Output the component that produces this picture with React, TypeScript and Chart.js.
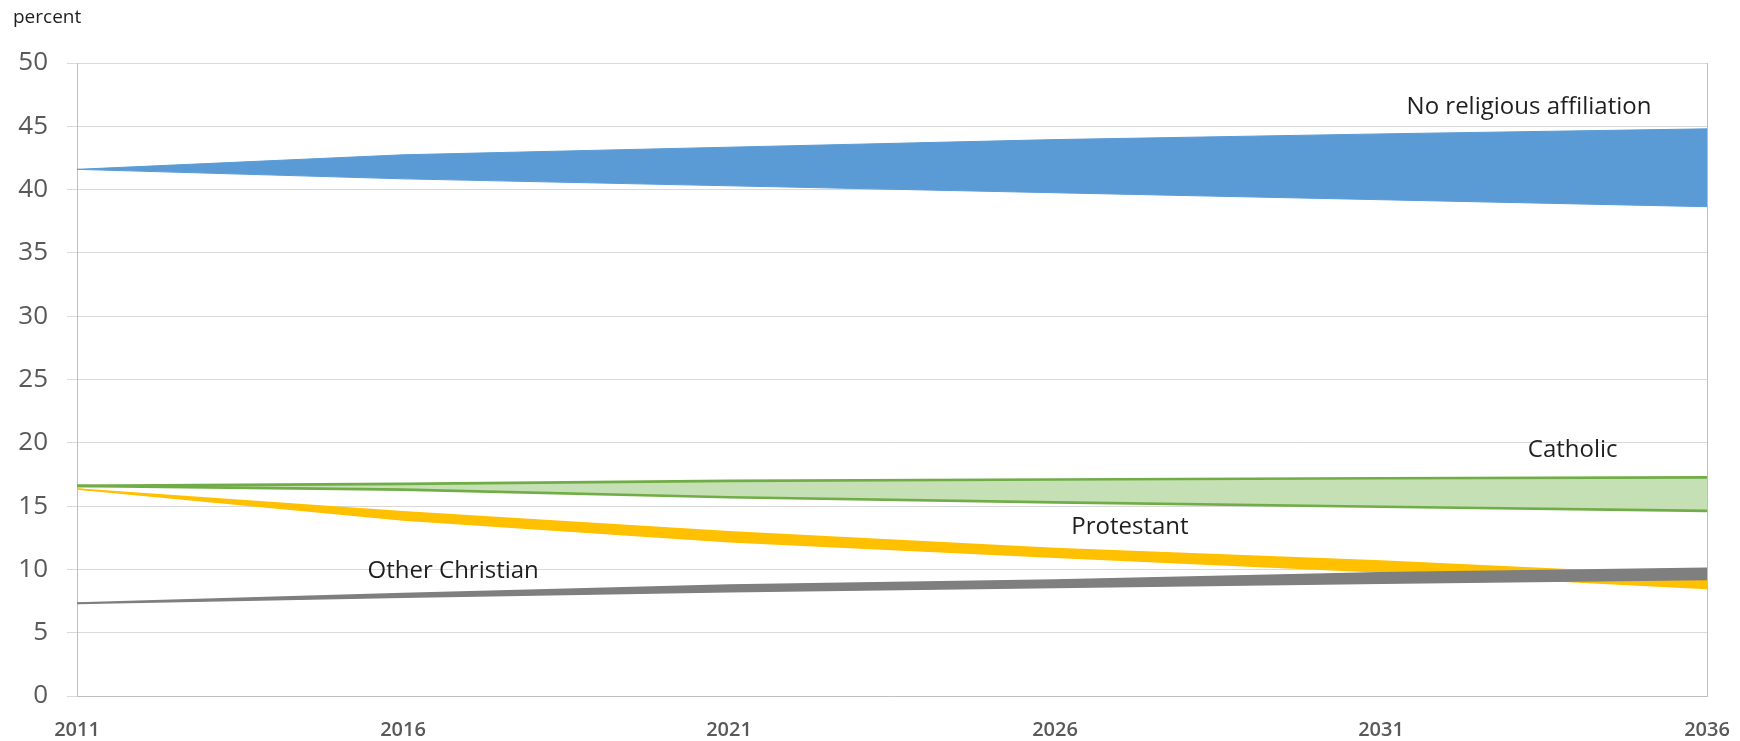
import React, { useEffect, useRef } from "react";
import { Chart, registerables } from "chart.js";

Chart.register(...registerables);

const years = [2011, 2016, 2021, 2026, 2031, 2036];
const xTickYears = [2011, 2016, 2021, 2026, 2031, 2036];
const yTickValues = [0, 5, 10, 15, 20, 25, 30, 35, 40, 45, 50];

const noReligionUpper = [41.6, 42.75, 43.35, 43.95, 44.4, 44.8];
const noReligionLower = [41.6, 40.85, 40.3, 39.75, 39.2, 38.65];
const catholicUpper = [16.6, 16.75, 17.0, 17.1, 17.2, 17.27];
const catholicLower = [16.6, 16.3, 15.7, 15.3, 14.95, 14.63];
const protestantUpper = [16.35, 14.55, 12.98, 11.66, 10.66, 9.45];
const protestantLower = [16.35, 13.9, 12.19, 10.95, 9.8, 8.5];
const otherChristianUpper = [7.35, 8.1, 8.77, 9.16, 9.74, 10.1];
const otherChristianLower = [7.3, 7.8, 8.24, 8.58, 8.9, 9.2];

const seriesNames = ["No religious affiliation", "Catholic", "Protestant", "Other Christian"];
// label anchor points in data units (year, percent)
const labelYears = [2033.27, 2033.94, 2027.15, 2016.77];
const labelValues = [46.5, 19.43, 13.35, 9.87];

const FONT = "'Open Sans', 'DejaVu Sans', sans-serif";

const pts = (vals: number[]) => years.map((yr, i) => ({ x: yr, y: vals[i] }));

const labelPlugin = {
  id: "bandLabels",
  afterDatasetsDraw(chart: any) {
    const { ctx, scales } = chart;
    ctx.save();
    ctx.fillStyle = "#1f1f1f";
    ctx.font = `24px ${FONT}`;
    ctx.textAlign = "center";
    ctx.textBaseline = "middle";
    seriesNames.forEach((name, i) => {
      ctx.fillText(name, scales.x.getPixelForValue(labelYears[i]), scales.y.getPixelForValue(labelValues[i]));
    });
    ctx.font = `19px ${FONT}`;
    ctx.textAlign = "left";
    ctx.fillText("percent", 13, 18);
    ctx.restore();
  },
};

export default function App() {
  const ref = useRef<HTMLCanvasElement | null>(null);
  useEffect(() => {
    if (!ref.current) return;
    const blue = "#5b9bd5";
    const green = "#70ad47";
    const greenFill = "#c5e0b4";
    const yellow = "#ffc000";
    const gray = "#7f7f7f";
    const chart = new Chart(ref.current, {
      type: "line",
      data: {
        datasets: [
          { label: "No religious upper", data: pts(noReligionUpper), borderColor: blue, borderWidth: 1, pointRadius: 0, fill: false, order: 1 },
          { label: "No religious lower", data: pts(noReligionLower), borderColor: blue, backgroundColor: blue, borderWidth: 1, pointRadius: 0, fill: "-1", order: 1 },
          { label: "Catholic upper", data: pts(catholicUpper), borderColor: green, borderWidth: 2.7, pointRadius: 0, fill: false, order: 2 },
          { label: "Catholic lower", data: pts(catholicLower), borderColor: green, backgroundColor: greenFill, borderWidth: 2.7, pointRadius: 0, fill: "-1", order: 2 },
          { label: "Other Christian upper", data: pts(otherChristianUpper), borderColor: gray, borderWidth: 1.5, pointRadius: 0, fill: false, order: 3 },
          { label: "Other Christian lower", data: pts(otherChristianLower), borderColor: gray, backgroundColor: gray, borderWidth: 1.5, pointRadius: 0, fill: "-1", order: 3 },
          { label: "Protestant upper", data: pts(protestantUpper), borderColor: yellow, borderWidth: 1.5, pointRadius: 0, fill: false, order: 4 },
          { label: "Protestant lower", data: pts(protestantLower), borderColor: yellow, backgroundColor: yellow, borderWidth: 1.5, pointRadius: 0, fill: "-1", order: 4 },
        ],
      },
      options: {
        animation: false,
        responsive: false,
        devicePixelRatio: 1,
        layout: { autoPadding: false, padding: { top: 63, right: 33, bottom: 0, left: 0 } },
        plugins: { legend: { display: false }, tooltip: { enabled: false } },
        elements: { line: { tension: 0 } },
        scales: {
          x: {
            type: "linear",
            min: 2011,
            max: 2036,
            afterBuildTicks: (scale: any) => {
              scale.ticks = xTickYears.map((v) => ({ value: v }));
            },
            afterFit: (scale: any) => {
              scale.height = 45;
              scale.paddingLeft = 0;
              scale.paddingRight = 0;
            },
            ticks: {
              autoSkip: false,
              maxRotation: 0,
              padding: 22,
              color: "#595959",
              font: { family: FONT, size: 20, weight: "600" },
              callback: (v: any) => String(v),
            },
            grid: {
              drawTicks: false,
              color: (c: any) => (c.index === xTickYears.length - 1 ? "#bfbfbf" : "rgba(0,0,0,0)"),
            },
            border: { display: true, color: "#bfbfbf", width: 1 },
          },
          y: {
            type: "linear",
            min: 0,
            max: 50,
            afterBuildTicks: (scale: any) => {
              scale.ticks = yTickValues.map((v) => ({ value: v }));
            },
            afterFit: (scale: any) => {
              scale.width = 77;
            },
            ticks: {
              padding: 19,
              color: "#595959",
              font: { family: FONT, size: 26 },
              callback: (v: any) => String(v),
            },
            grid: { color: "#d9d9d9", tickLength: 10, tickColor: "#d9d9d9" },
            border: { display: true, color: "#bfbfbf", width: 1 },
          },
        },
      },
      plugins: [labelPlugin],
    } as any);
    return () => chart.destroy();
  }, []);
  return (
    <div style={{ position: "absolute", left: 0, top: 0, width: 1740, height: 741, background: "#fff" }}>
      <canvas ref={ref} width={1740} height={741} style={{ width: 1740, height: 741 }} />
    </div>
  );
}
